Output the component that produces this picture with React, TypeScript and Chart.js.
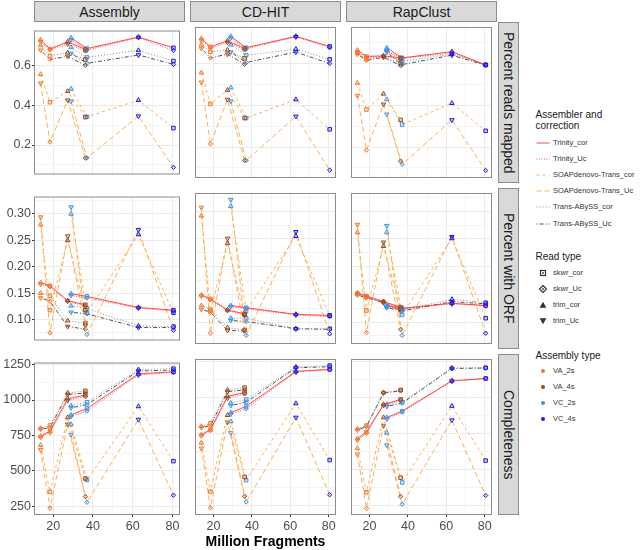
import React, { useEffect, useRef } from 'react';
import { Chart, registerables } from 'chart.js';

Chart.register(...registerables);

const FONT = "'Liberation Sans', Arial, Helvetica, sans-serif";

// Million fragments of each assembly, in line order.
// VA segment: VA_2s trim, VA_2s skwr, VA_4s trim, VA_4s skwr | VC segment: VC_2s trim, VC_2s skwr, VC_4s trim, VC_4s skwr
const FRAGMENTS = [13.7, 18.4, 27.3, 36.2, 29.0, 37.0, 62.9, 80.5];
const POINT_ASSEMBLY = ['VA_2s', 'VA_2s', 'VA_4s', 'VA_4s', 'VC_2s', 'VC_2s', 'VC_4s', 'VC_4s'];
const POINT_READ = ['trim', 'skwr', 'trim', 'skwr', 'trim', 'skwr', 'trim', 'skwr'];
const SEGMENTS = [[0, 1, 2, 3], [4, 5, 6, 7]];

const METHODS = ['Assembly', 'CD-HIT', 'RapClust'];
const METRICS = ['Percent reads mapped', 'Percent with ORF', 'Completeness'];
const SERIES = ['Trinity_cor', 'Trinity_Uc', 'SOAPdenovo-Trans_cor', 'SOAPdenovo-Trans_Uc', 'Trans-ABySS_cor', 'Trans-ABySS_Uc'];
const READ_TYPES = ['skwr_cor', 'skwr_Uc', 'trim_cor', 'trim_Uc'];
const ASSEMBLY_TYPES = ['VA_2s', 'VA_4s', 'VC_2s', 'VC_4s'];

const X_TICKS = [20, 40, 60, 80];
const X_MINOR = [30, 50, 70];
const MAPPED_TICKS = [0.2, 0.4, 0.6];
const MAPPED_MINOR = [0.1, 0.3, 0.5, 0.7];
const ORF_TICKS = [0.1, 0.15, 0.2, 0.25, 0.3];
const ORF_MINOR = [0.075, 0.125, 0.175, 0.225, 0.275, 0.325];
const COMPLETENESS_TICKS = [250, 500, 750, 1000, 1250];
const COMPLETENESS_MINOR = [375, 625, 875, 1125];

// Series order in each panel: Trinity_cor, Trinity_Uc, SOAP_cor, SOAP_Uc, TransABySS_cor, TransABySS_Uc
const mappedAssembly = [
  [0.728, 0.682, 0.718, 0.680, 0.738, 0.684, 0.742, 0.688],
  [0.720, 0.678, 0.708, 0.672, 0.728, 0.676, 0.740, 0.675],
  [0.555, 0.415, 0.470, 0.340, 0.482, 0.342, 0.425, 0.285],
  [0.510, 0.215, 0.425, 0.135, 0.420, 0.135, 0.345, 0.088],
  [0.700, 0.648, 0.664, 0.630, 0.690, 0.640, 0.675, 0.622],
  [0.676, 0.630, 0.645, 0.600, 0.660, 0.610, 0.652, 0.605],
];
const mappedCdhit = [
  [0.720, 0.680, 0.709, 0.672, 0.730, 0.676, 0.730, 0.682],
  [0.712, 0.674, 0.702, 0.666, 0.722, 0.670, 0.728, 0.676],
  [0.556, 0.407, 0.473, 0.339, 0.485, 0.339, 0.428, 0.285],
  [0.510, 0.215, 0.428, 0.136, 0.420, 0.136, 0.347, 0.090],
  [0.690, 0.656, 0.665, 0.625, 0.690, 0.640, 0.669, 0.620],
  [0.672, 0.627, 0.645, 0.597, 0.655, 0.605, 0.655, 0.600],
];
const mappedRapclust = [
  [0.664, 0.634, 0.637, 0.627, 0.675, 0.627, 0.657, 0.594],
  [0.655, 0.628, 0.635, 0.620, 0.660, 0.625, 0.650, 0.594],
  [0.507, 0.380, 0.455, 0.330, 0.428, 0.308, 0.410, 0.278],
  [0.447, 0.185, 0.405, 0.133, 0.357, 0.118, 0.330, 0.088],
  [0.650, 0.620, 0.635, 0.600, 0.665, 0.610, 0.645, 0.593],
  [0.645, 0.615, 0.630, 0.590, 0.655, 0.595, 0.640, 0.592],
];

const orfAssembly = [
  [0.170, 0.164, 0.136, 0.128, 0.149, 0.144, 0.123, 0.118],
  [0.167, 0.162, 0.135, 0.125, 0.146, 0.141, 0.122, 0.116],
  [0.280, 0.118, 0.250, 0.118, 0.300, 0.113, 0.261, 0.113],
  [0.294, 0.075, 0.258, 0.090, 0.313, 0.072, 0.270, 0.080],
  [0.150, 0.145, 0.098, 0.093, 0.126, 0.121, 0.088, 0.087],
  [0.141, 0.135, 0.087, 0.082, 0.114, 0.111, 0.085, 0.085],
];
const orfCdhit = [
  [0.149, 0.142, 0.122, 0.115, 0.130, 0.126, 0.114, 0.112],
  [0.147, 0.140, 0.121, 0.113, 0.128, 0.124, 0.113, 0.110],
  [0.292, 0.120, 0.242, 0.113, 0.309, 0.120, 0.255, 0.112],
  [0.307, 0.080, 0.251, 0.085, 0.321, 0.076, 0.263, 0.079],
  [0.130, 0.123, 0.090, 0.086, 0.107, 0.107, 0.088, 0.088],
  [0.123, 0.118, 0.085, 0.084, 0.103, 0.101, 0.088, 0.087],
];
const orfRapclust = [
  [0.153, 0.147, 0.137, 0.127, 0.130, 0.125, 0.134, 0.130],
  [0.152, 0.145, 0.136, 0.125, 0.128, 0.124, 0.133, 0.129],
  [0.262, 0.121, 0.237, 0.124, 0.262, 0.113, 0.251, 0.107],
  [0.276, 0.081, 0.244, 0.087, 0.274, 0.076, 0.254, 0.080],
  [0.150, 0.146, 0.137, 0.122, 0.128, 0.122, 0.141, 0.135],
  [0.149, 0.144, 0.135, 0.120, 0.126, 0.120, 0.137, 0.133],
];

const completenessAssembly = [
  [745, 780, 1010, 1035, 895, 940, 1185, 1200],
  [738, 770, 997, 1025, 885, 922, 1178, 1195],
  [681, 351, 877, 445, 828, 435, 955, 568],
  [648, 235, 828, 317, 755, 277, 862, 327],
  [800, 820, 1050, 1065, 960, 985, 1215, 1222],
  [795, 805, 1040, 1050, 945, 968, 1205, 1212],
];
const completenessCdhit = [
  [742, 778, 1007, 1034, 895, 938, 1180, 1194],
  [735, 770, 995, 1024, 884, 922, 1175, 1192],
  [686, 349, 877, 450, 834, 428, 958, 567],
  [648, 237, 828, 317, 755, 277, 861, 327],
  [800, 821, 1052, 1068, 962, 985, 1210, 1220],
  [792, 805, 1040, 1052, 944, 967, 1205, 1212],
];
const completenessRapclust = [
  [715, 760, 951, 986, 861, 905, 1115, 1131],
  [705, 752, 945, 980, 850, 898, 1112, 1130],
  [648, 344, 861, 445, 755, 412, 940, 563],
  [607, 232, 805, 315, 670, 261, 843, 322],
  [782, 805, 1034, 1052, 951, 967, 1203, 1205],
  [775, 798, 1030, 1045, 938, 960, 1200, 1203],
];

const PANEL_VALUES = [
  [mappedAssembly, mappedCdhit, mappedRapclust],
  [orfAssembly, orfCdhit, orfRapclust],
  [completenessAssembly, completenessCdhit, completenessRapclust],
];

const ROWS = [
  { min: 0.052, max: 0.775, major: MAPPED_TICKS, minor: MAPPED_MINOR, fmt: (v: number) => v.toFixed(1) },
  { min: 0.0605, max: 0.333, major: ORF_TICKS, minor: ORF_MINOR, fmt: (v: number) => v.toFixed(2) },
  { min: 187, max: 1265.5, major: COMPLETENESS_TICKS, minor: COMPLETENESS_MINOR, fmt: (v: number) => String(v) },
];
const X_MIN = 10.37;
const X_MAX = 83.8;

const SERIES_STYLE = [
  { color: 'rgba(255,45,45,0.85)', dash: [] as number[], width: 1 },
  { color: 'rgba(255,45,45,0.85)', dash: [1, 1.5], width: 1 },
  { color: '#FFAE55', dash: [3, 3], width: 1 },
  { color: '#FFAE55', dash: [5, 3], width: 1 },
  { color: '#8C8C8C', dash: [1, 2], width: 1 },
  { color: '#505050', dash: [1, 2, 4, 2], width: 1 },
];

const ASSEMBLY_COLOR: Record<string, string> = {
  VA_2s: '#F2772A',
  VA_4s: '#9A4A1E',
  VC_2s: '#3597F2',
  VC_4s: '#1C1CE6',
};
const ASSEMBLY_FILL: Record<string, string> = {
  VA_2s: 'rgba(242,119,42,0.2)',
  VA_4s: 'rgba(154,74,30,0.2)',
  VC_2s: 'rgba(53,151,242,0.2)',
  VC_4s: 'rgba(28,28,230,0.2)',
};

const PLOT_LEFT = [34, 190, 346];
const PLOT_TOP = [22, 188, 354];
const PLOT_W = 151;
const PLOT_H = 161;
const X_AXIS_H = 24;

const panelBorder = {
  id: 'panelBorder',
  afterDraw(chart: any) {
    const { ctx, chartArea } = chart;
    ctx.save();
    ctx.strokeStyle = '#8C8C8C';
    ctx.lineWidth = 1;
    ctx.strokeRect(chartArea.left + 0.5, chartArea.top + 0.5, chartArea.right - chartArea.left - 1, chartArea.bottom - chartArea.top - 1);
    ctx.restore();
  },
};

function makeAxis(
  min: number,
  max: number,
  major: number[],
  minor: number[],
  fmt: (v: number) => string,
  show: boolean,
  isX: boolean,
  size: number,
) {
  const isMajor = (v: any) => major.includes(v);
  return {
    type: 'linear',
    min,
    max,
    afterBuildTicks: (scale: any) => {
      scale.ticks = [...major, ...minor]
        .filter((v) => v >= min && v <= max)
        .sort((a, b) => a - b)
        .map((v) => ({ value: v }));
    },
    afterFit: (scale: any) => {
      if (isX) scale.height = size;
      else scale.width = size;
    },
    border: { display: false },
    grid: {
      color: (ctx: any) => (ctx.tick && isMajor(ctx.tick.value) ? '#EBEBEB' : '#F4F4F4'),
      lineWidth: 1,
      drawTicks: show,
      tickLength: 2,
      tickWidth: 1,
      tickColor: (ctx: any) => (ctx.tick && isMajor(ctx.tick.value) ? '#333333' : 'rgba(0,0,0,0)'),
    },
    ticks: {
      display: show,
      autoSkip: false,
      maxRotation: 0,
      padding: isX ? 2 : 1,
      color: '#4D4D4D',
      font: { family: FONT, size: 12.5 },
      callback: (v: any) => (isMajor(v) ? fmt(v) : ''),
    },
  };
}

function Panel({ row, col }: { row: number; col: number }) {
  const ref = useRef<HTMLCanvasElement>(null);
  const left = col === 0 ? 0 : PLOT_LEFT[col];
  const width = PLOT_LEFT[col] + PLOT_W - left;
  const top = PLOT_TOP[row];
  const height = PLOT_H + (row === 2 ? X_AXIS_H : 0);

  useEffect(() => {
    const cfg = ROWS[row];
    const values = PANEL_VALUES[row][col];
    const datasets: any[] = [];
    SERIES.forEach((name, s) => {
      const st = SERIES_STYLE[s];
      const uc = name.endsWith('_Uc');
      SEGMENTS.forEach((seg) => {
        datasets.push({
          label: name,
          data: seg.map((i) => ({ x: FRAGMENTS[i], y: values[s][i] })),
          borderColor: st.color,
          borderWidth: st.width,
          borderDash: st.dash,
          fill: false,
          tension: 0,
          pointStyle: seg.map((i) => (POINT_READ[i] === 'trim' ? 'triangle' : uc ? 'rectRot' : 'rect')),
          pointRotation: seg.map((i) => (POINT_READ[i] === 'trim' && uc ? 180 : 0)),
          pointRadius: seg.map((i) => (POINT_READ[i] === 'trim' ? 2.6 : uc ? 2.2 : 2.5)),
          pointBorderWidth: 1,
          pointBorderColor: seg.map((i) => ASSEMBLY_COLOR[POINT_ASSEMBLY[i]]),
          pointBackgroundColor: seg.map((i) => ASSEMBLY_FILL[POINT_ASSEMBLY[i]]),
        });
      });
    });
    const showY = col === 0;
    const showX = row === 2;
    const chart = new Chart(ref.current as HTMLCanvasElement, {
      type: 'line',
      data: { datasets },
      options: {
        animation: false,
        responsive: false,
        maintainAspectRatio: false,
        events: [],
        layout: { padding: 0 },
        plugins: { legend: { display: false }, tooltip: { enabled: false }, title: { display: false } },
        scales: {
          x: makeAxis(X_MIN, X_MAX, X_TICKS, X_MINOR, (v) => String(v), showX, true, showX ? X_AXIS_H : 0) as any,
          y: makeAxis(cfg.min, cfg.max, cfg.major, cfg.minor, cfg.fmt, showY, false, showY ? PLOT_LEFT[0] : 0) as any,
        },
      } as any,
      plugins: [panelBorder],
    });
    return () => chart.destroy();
  }, [row, col]);

  return (
    <canvas
      ref={ref}
      width={width}
      height={height}
      style={{ position: 'absolute', left, top, width, height, display: 'block' }}
    />
  );
}

const STRIP_BG = '#D9D9D9';
const STRIP_BORDER = '#8C8C8C';

function LineKey({ s, y }: { s: number; y: number }) {
  const st = SERIES_STYLE[s];
  return (
    <svg width={14} height={6} style={{ position: 'absolute', left: 536, top: y - 3 }}>
      <line x1={0.5} y1={3} x2={13.5} y2={3} stroke={st.color} strokeWidth={1} strokeDasharray={st.dash.length ? st.dash.join(' ') : undefined} />
    </svg>
  );
}

function ReadKey({ t, y }: { t: string; y: number }) {
  let shape: any;
  if (t === 'skwr_cor') shape = (
    <g>
      <rect x={2.5} y={2.5} width={5} height={5} fill="none" stroke="#333" strokeWidth={1.2} />
      <rect x={4.2} y={4.2} width={1.6} height={1.6} fill="#333" />
    </g>
  );
  else if (t === 'skwr_Uc') shape = (
    <g>
      <polygon points="5,1.5 8.5,5 5,8.5 1.5,5" fill="none" stroke="#333" strokeWidth={1.2} />
      <circle cx={5} cy={5} r={0.9} fill="#333" />
    </g>
  );
  else if (t === 'trim_cor') shape = <polygon points="5,1.8 8.4,7.8 1.6,7.8" fill="#333" />;
  else shape = <polygon points="5,8.2 8.4,2.2 1.6,2.2" fill="#333" />;
  return (
    <svg width={10} height={10} style={{ position: 'absolute', left: 538, top: y - 5 }}>
      {shape}
    </svg>
  );
}

function LegendLabel({ text, y }: { text: string; y: number }) {
  return (
    <div style={{ position: 'absolute', left: 553, top: y - 5, fontSize: 7.5, lineHeight: '10px', color: '#333', whiteSpace: 'nowrap' }}>
      {text}
    </div>
  );
}

export default function App() {
  const panels: any[] = [];
  for (let r = 0; r < 3; r++) for (let c = 0; c < 3; c++) panels.push(<Panel key={`${r}-${c}`} row={r} col={c} />);

  return (
    <div style={{ position: 'absolute', left: 0, top: 0, width: 642, height: 550, background: '#fff', fontFamily: FONT, overflow: 'hidden' }}>
      {panels}
      {METHODS.map((m, c) => (
        <div
          key={m}
          style={{
            position: 'absolute', left: PLOT_LEFT[c], top: 1, width: PLOT_W, height: 21, boxSizing: 'border-box',
            background: STRIP_BG, border: `1px solid ${STRIP_BORDER}`, display: 'flex', alignItems: 'center',
            justifyContent: 'center', fontSize: 14, color: '#1A1A1A',
          }}
        >
          {m}
        </div>
      ))}
      {METRICS.map((m, r) => (
        <div
          key={m}
          style={{
            position: 'absolute', left: 498, top: PLOT_TOP[r], width: 21, height: PLOT_H, boxSizing: 'border-box',
            background: STRIP_BG, border: `1px solid ${STRIP_BORDER}`, display: 'flex', alignItems: 'center',
            justifyContent: 'center', fontSize: 14, color: '#1A1A1A',
          }}
        >
          <span style={{ writingMode: 'vertical-rl', whiteSpace: 'nowrap' }}>{m}</span>
        </div>
      ))}
      <div style={{ position: 'absolute', left: PLOT_LEFT[0], width: PLOT_LEFT[2] + PLOT_W - PLOT_LEFT[0], top: 533, textAlign: 'center', fontWeight: 'bold', fontSize: 14, lineHeight: '17px', color: '#000' }}>
        Million Fragments
      </div>

      <div style={{ position: 'absolute', left: 535.5, top: 109, fontSize: 10, lineHeight: '11px', color: '#1A1A1A', whiteSpace: 'nowrap' }}>
        Assembler and<br />correction
      </div>
      {SERIES.map((s, i) => (
        <React.Fragment key={s}>
          <LineKey s={i} y={143 + 16.1 * i} />
          <LegendLabel text={s} y={143 + 16.1 * i} />
        </React.Fragment>
      ))}

      <div style={{ position: 'absolute', left: 535.5, top: 251, fontSize: 10, lineHeight: '11px', color: '#1A1A1A', whiteSpace: 'nowrap' }}>
        Read type
      </div>
      {READ_TYPES.map((t, i) => (
        <React.Fragment key={t}>
          <ReadKey t={t} y={273 + 16 * i} />
          <LegendLabel text={t} y={273 + 16 * i} />
        </React.Fragment>
      ))}

      <div style={{ position: 'absolute', left: 535.5, top: 349.5, fontSize: 10, lineHeight: '11px', color: '#1A1A1A', whiteSpace: 'nowrap' }}>
        Assembly type
      </div>
      {ASSEMBLY_TYPES.map((t, i) => (
        <React.Fragment key={t}>
          <svg width={10} height={10} style={{ position: 'absolute', left: 538, top: 371 + 16 * i - 5 }}>
            <circle cx={5} cy={5} r={2} fill={ASSEMBLY_COLOR[t]} />
          </svg>
          <LegendLabel text={t} y={371 + 16 * i} />
        </React.Fragment>
      ))}
    </div>
  );
}
